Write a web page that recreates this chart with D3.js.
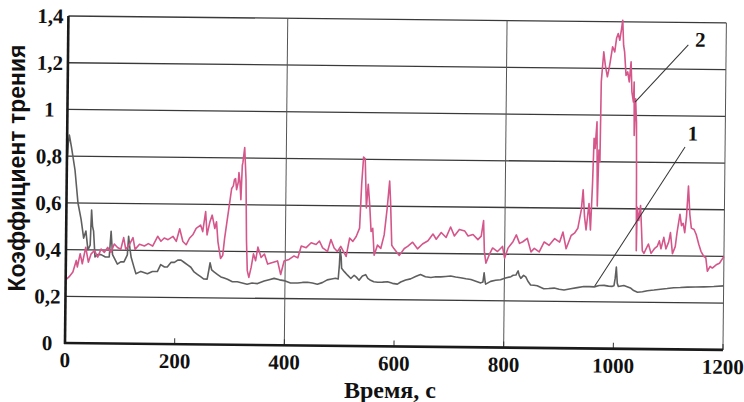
<!DOCTYPE html>
<html>
<head>
<meta charset="utf-8">
<script src="https://cdn.jsdelivr.net/npm/d3@7"></script>
<style>
  body { margin: 0; background: #fff; }
  svg { display: block; }
  .serif { font-family: 'Liberation Serif', 'Times New Roman', Times, serif; font-weight: bold; }
  .sans { font-family: 'Liberation Sans', Arial, Helvetica, sans-serif; font-weight: bold; }
</style>
</head>
<body>
<div id="graph"></div>
<script>
var width = 744;
var height = 402;

// curve 1 (grey)
var time1 = [0, 2, 4, 8, 15, 21, 27, 32, 36, 40, 44, 46, 48, 50, 53, 58, 64, 72, 79, 82, 85, 94, 100, 106, 112, 114, 117, 119, 124, 128,
  137, 149, 158, 167, 173, 180, 185, 192, 198, 204, 210, 216, 222, 228, 234, 240, 246, 252, 258, 261, 263, 266, 271, 277, 283, 289, 295,
  304, 313, 322, 331, 340, 350, 362, 371, 380, 390, 398, 410, 423, 432, 441, 450, 459, 468, 477, 485, 492, 497, 499, 500, 502, 503, 508,
  514, 520, 526, 530, 535, 541, 547, 551, 556, 562, 569, 578, 587, 596, 605, 611, 620, 629, 638, 647, 656, 666, 675, 684, 693, 702, 711,
  720, 730, 739, 748, 757, 761, 763, 765, 766, 775, 784, 793, 802, 812, 816, 821, 823, 825, 827, 830, 835, 839, 843, 848, 854, 860, 866,
  872, 881, 891, 900, 909, 921, 933, 945, 955, 964, 973, 982, 990, 997, 1000, 1002, 1004, 1006, 1008, 1018, 1030, 1036, 1043, 1052, 1061,
  1073, 1085, 1097, 1109, 1121, 1134, 1149, 1164, 1182, 1200];
var coef1 = [0.76, 0.85, 0.89, 0.84, 0.74, 0.60, 0.53, 0.45, 0.48, 0.40, 0.42, 0.57, 0.50, 0.48, 0.37, 0.38, 0.38, 0.37, 0.37, 0.48, 0.38, 0.34, 0.35, 0.35, 0.38, 0.46, 0.40, 0.37, 0.33, 0.30,
  0.31, 0.30, 0.31, 0.31, 0.34, 0.33, 0.33, 0.35, 0.35, 0.36, 0.36, 0.35, 0.34, 0.33, 0.31, 0.30, 0.29, 0.28, 0.28, 0.32, 0.35, 0.32, 0.31, 0.30, 0.29, 0.285, 0.28,
  0.27, 0.27, 0.265, 0.26, 0.265, 0.263, 0.274, 0.28, 0.286, 0.28, 0.277, 0.267, 0.267, 0.27, 0.271, 0.268, 0.263, 0.27, 0.282, 0.286, 0.289, 0.286, 0.35, 0.412, 0.38, 0.332, 0.318,
  0.303, 0.289, 0.303, 0.295, 0.282, 0.30, 0.306, 0.29, 0.282, 0.276, 0.274, 0.275, 0.277, 0.27, 0.267, 0.276, 0.285, 0.29, 0.30, 0.309, 0.30, 0.297, 0.30, 0.30, 0.302, 0.304, 0.30,
  0.297, 0.293, 0.29, 0.283, 0.276, 0.28, 0.319, 0.28, 0.271, 0.283, 0.288, 0.29, 0.298, 0.304, 0.31, 0.311, 0.32, 0.329, 0.31, 0.297, 0.31, 0.304, 0.285, 0.269, 0.268, 0.266, 0.26,
  0.254, 0.255, 0.257, 0.252, 0.249, 0.255, 0.26, 0.265, 0.265, 0.264, 0.27, 0.271, 0.268, 0.267, 0.27, 0.30, 0.35, 0.28, 0.267, 0.271, 0.261, 0.25, 0.243, 0.245, 0.25,
  0.253, 0.257, 0.26, 0.264, 0.265, 0.267, 0.268, 0.269, 0.271, 0.274];

// curve 2 (pink)
var time2 = [0, 6, 13, 19, 21, 26, 30, 36, 41, 46, 52, 58, 64, 70, 76, 82, 88, 94, 100, 105, 109, 116, 122, 126, 134, 143, 150, 158, 167, 173,
  179, 186, 195, 201, 207, 213, 219, 225, 231, 237, 245, 249, 254, 257, 262, 266, 271, 274, 277, 282, 286, 289, 293, 297, 301, 304, 306, 308,
  310, 313, 314, 316, 318, 320, 321, 324, 327, 329, 331, 334, 338, 342, 346, 350, 356, 362, 368, 377, 386, 392, 398, 407, 416, 423, 429, 438,
  447, 456, 462, 468, 477, 483, 489, 495, 501, 511, 517, 523, 529, 535, 538, 541, 544, 547, 550, 553, 556, 559, 562, 568, 574, 580, 585, 589,
  591, 594, 598, 608, 617, 623, 632, 641, 650, 660, 669, 675, 684, 693, 701, 708, 717, 727, 733, 742, 751, 757, 761, 763, 766, 772, 778, 787,
  796, 800, 806, 815, 821, 827, 833, 841, 848, 854, 863, 872, 881, 891, 900, 906, 912, 921, 927, 933, 939, 942, 945, 948, 953, 956, 959, 961,
  963, 966, 968, 970, 972, 973, 977, 980, 984, 987, 989, 993, 997, 1000, 1003, 1006, 1009, 1011, 1013, 1015, 1018, 1021, 1024, 1027, 1029,
  1032, 1033, 1034, 1036, 1037, 1038, 1039, 1040, 1041, 1044, 1047, 1049, 1051, 1054, 1058, 1062, 1067, 1073, 1078, 1082, 1085, 1090, 1094,
  1099, 1102, 1106, 1111, 1114, 1119, 1122, 1125, 1128, 1131, 1134, 1137, 1140, 1145, 1149, 1154, 1158, 1163, 1167, 1170, 1175, 1179, 1186,
  1192, 1198, 1200];
var coef2 = [0.27, 0.283, 0.304, 0.354, 0.326, 0.383, 0.34, 0.411, 0.347, 0.383, 0.397, 0.369, 0.404, 0.39, 0.411, 0.39, 0.426, 0.411, 0.404, 0.454, 0.404, 0.426, 0.454, 0.404, 0.426, 0.419, 0.429, 0.419, 0.461, 0.44,
  0.454, 0.447, 0.461, 0.44, 0.494, 0.44, 0.426, 0.454, 0.469, 0.497, 0.511, 0.483, 0.569, 0.469, 0.526, 0.554, 0.497, 0.526, 0.44, 0.369, 0.383, 0.454, 0.526, 0.597, 0.669, 0.68, 0.708, 0.711,
  0.664, 0.697, 0.737, 0.70, 0.621, 0.769, 0.78, 0.845, 0.708, 0.448, 0.318, 0.289, 0.332, 0.39, 0.361, 0.419, 0.375, 0.39, 0.347, 0.354, 0.361, 0.303, 0.361, 0.368, 0.383, 0.375, 0.426, 0.419,
  0.44, 0.433, 0.448, 0.419, 0.404, 0.455, 0.419, 0.404, 0.426, 0.383, 0.462, 0.448, 0.469, 0.505, 0.693, 0.809, 0.802, 0.592, 0.693, 0.607, 0.491, 0.505, 0.39, 0.433, 0.419, 0.477, 0.592, 0.708,
  0.621, 0.433, 0.419, 0.39, 0.42, 0.429, 0.447, 0.419, 0.44, 0.454, 0.483, 0.461, 0.49, 0.469, 0.514, 0.476, 0.504, 0.497, 0.476, 0.483, 0.461, 0.476, 0.543, 0.411, 0.361, 0.397, 0.426, 0.411,
  0.433, 0.383, 0.426, 0.454, 0.483, 0.447, 0.454, 0.469, 0.411, 0.426, 0.411, 0.454, 0.44, 0.469, 0.454, 0.497, 0.426, 0.483, 0.493, 0.514, 0.593, 0.679, 0.564, 0.507, 0.621, 0.507, 0.707, 0.90,
  0.857, 0.971, 0.61, 0.85, 0.80, 1.143, 1.271, 1.214, 1.164, 1.20, 1.229, 1.293, 1.271, 1.329, 1.35, 1.321, 1.371, 1.407, 1.30, 1.271, 1.171, 1.186, 1.143, 1.229, 1.10,
  1.057, 1.143, 0.914, 1.071, 1.014, 0.971, 0.75, 0.421, 0.607, 0.55, 0.614, 0.521, 0.421, 0.41, 0.43, 0.45, 0.41, 0.43, 0.44, 0.464, 0.43, 0.479, 0.43,
  0.46, 0.50, 0.41, 0.44, 0.50, 0.579, 0.53, 0.54, 0.50, 0.57, 0.70, 0.579, 0.52, 0.514, 0.493, 0.45, 0.421, 0.40, 0.393, 0.336, 0.357, 0.35, 0.364,
  0.371, 0.393, 0.40];

var xTicks = [0, 200, 400, 600, 800, 1000, 1200];
var xGrid = [400, 800, 1200];
var yTicks = [0, 0.2, 0.4, 0.6, 0.8, 1, 1.2, 1.4];
var yTickLabels = ['0', '0,2', '0,4', '0,6', '0,8', '1', '1,2', '1,4'];

// callouts: label, label point, leader start, leader end (time, coef)
var calloutLabels = ['1', '2'];
var calloutText = [[1141, 0.895], [1153, 1.296]];
var calloutFrom = [[1127, 0.867], [1131, 1.304]];
var calloutTo = [[965, 0.268], [1035, 1.057]];

var svg = d3.select('#graph')
    .append('svg')
    .attr('width', width)
    .attr('height', height);

var x = d3.scaleLinear().domain([0, 1200]).range([65, 723]);
var y = d3.scaleLinear().domain([0, 1.4]).range([343, 16]);

// the scanned chart is slightly tilted
var g = svg.append('g')
    .attr('transform', 'rotate(0.6,' + x(0) + ',' + y(0) + ')');

// horizontal grid
g.selectAll('.hgrid')
    .data(yTicks.slice(1))
    .enter()
    .append('line')
    .attr('x1', x(0)).attr('x2', x(1200))
    .attr('y1', function(d) { return y(d); })
    .attr('y2', function(d) { return y(d); })
    .attr('stroke', '#3a3a3a')
    .attr('stroke-width', 1.3);

// vertical grid
g.selectAll('.vgrid')
    .data(xGrid)
    .enter()
    .append('line')
    .attr('x1', function(d) { return x(d); })
    .attr('x2', function(d) { return x(d); })
    .attr('y1', y(0)).attr('y2', y(1.4))
    .attr('stroke', '#555')
    .attr('stroke-width', 1);

// x tick marks
g.selectAll('.xtick')
    .data(xTicks)
    .enter()
    .append('line')
    .attr('x1', function(d) { return x(d); })
    .attr('x2', function(d) { return x(d); })
    .attr('y1', y(0)).attr('y2', y(0) - 6)
    .attr('stroke', '#333')
    .attr('stroke-width', 1);

var line = d3.line()
    .x(function(d) { return x(d[0]); })
    .y(function(d) { return y(d[1]); });

g.append('path')
    .datum(d3.zip(time1, coef1))
    .attr('d', line)
    .attr('fill', 'none')
    .attr('stroke', '#5f5f5f')
    .attr('stroke-width', 1.6)
    .attr('stroke-linejoin', 'round');

g.append('path')
    .datum(d3.zip(time2, coef2))
    .attr('d', line)
    .attr('fill', 'none')
    .attr('stroke', '#d4568a')
    .attr('stroke-width', 1.6)
    .attr('stroke-linejoin', 'round');

// axes
g.append('line')
    .attr('x1', x(0)).attr('x2', x(0))
    .attr('y1', y(0) + 1).attr('y2', y(1.4))
    .attr('stroke', '#1a1a1a')
    .attr('stroke-width', 2.6);
g.append('line')
    .attr('x1', x(0) - 1).attr('x2', x(1200))
    .attr('y1', y(0)).attr('y2', y(0))
    .attr('stroke', '#1a1a1a')
    .attr('stroke-width', 2.6);

// tick labels
g.selectAll('.ylab')
    .data(yTicks)
    .enter()
    .append('text')
    .attr('class', 'serif')
    .attr('x', 47)
    .attr('y', function(d) { return y(d); })
    .attr('dy', '0.35em')
    .attr('text-anchor', 'middle')
    .attr('font-size', 21)
    .attr('fill', '#111')
    .text(function(d, i) { return yTickLabels[i]; });

g.selectAll('.xlab')
    .data(xTicks)
    .enter()
    .append('text')
    .attr('class', 'serif')
    .attr('x', function(d) { return x(d); })
    .attr('y', y(0) + 24)
    .attr('text-anchor', 'middle')
    .attr('font-size', 21)
    .attr('fill', '#111')
    .text(function(d) { return d; });

// callouts
g.selectAll('.leader')
    .data(calloutLabels)
    .enter()
    .append('line')
    .attr('x1', function(d, i) { return x(calloutFrom[i][0]); })
    .attr('y1', function(d, i) { return y(calloutFrom[i][1]); })
    .attr('x2', function(d, i) { return x(calloutTo[i][0]); })
    .attr('y2', function(d, i) { return y(calloutTo[i][1]); })
    .attr('stroke', '#333')
    .attr('stroke-width', 1);

g.selectAll('.callout')
    .data(calloutLabels)
    .enter()
    .append('text')
    .attr('class', 'serif')
    .attr('x', function(d, i) { return x(calloutText[i][0]); })
    .attr('y', function(d, i) { return y(calloutText[i][1]); })
    .attr('text-anchor', 'middle')
    .attr('font-size', 21)
    .attr('fill', '#111')
    .text(function(d) { return d; });

// axis titles
svg.append('text')
    .attr('class', 'sans')
    .attr('transform', 'translate(25,168) rotate(-90)')
    .attr('text-anchor', 'middle')
    .attr('font-size', 23)
    .attr('fill', '#111')
    .text('Коэффициент трения');

svg.append('text')
    .attr('class', 'serif')
    .attr('x', 390)
    .attr('y', 398)
    .attr('text-anchor', 'middle')
    .attr('font-size', 24)
    .attr('fill', '#111')
    .text('Время, с');
</script>
</body>
</html>
